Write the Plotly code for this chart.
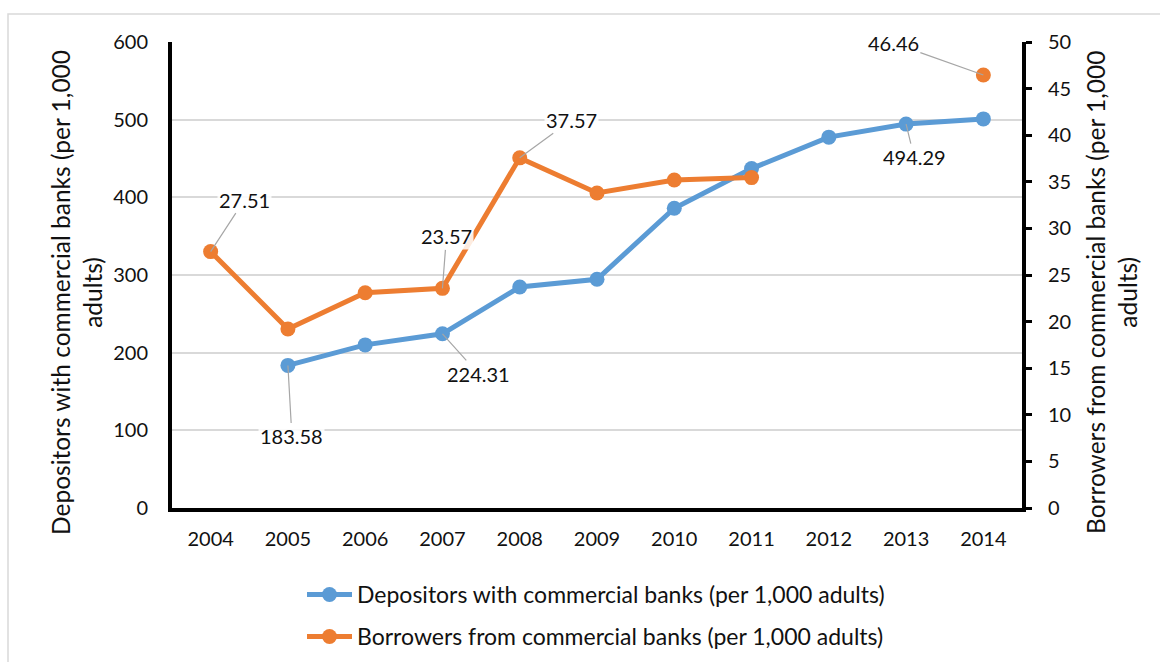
import plotly.graph_objects as go

years = ["2004", "2005", "2006", "2007", "2008", "2009", "2010", "2011", "2012", "2013", "2014"]
depositors = [None, 183.58, 210.0, 224.31, 284.5, 294.5, 386.0, 437.0, 477.5, 494.29, 501.0]
borrowers = [27.51, 19.2, 23.1, 23.57, 37.57, 33.8, 35.2, 35.45, None, None, 46.46]

dep_name = "Depositors with commercial banks (per 1,000 adults)"
bor_name = "Borrowers from commercial banks (per 1,000 adults)"
dep_title = "Depositors with commercial banks (per 1,000<br>adults)"
bor_title = "Borrowers from commercial banks (per 1,000<br>adults)"

BLUE = "#5B9BD5"
ORANGE = "#ED7D31"
FONT = "Lato"
TXT = "#111111"

# Plot-area geometry in pixels, used to place paper-referenced items
L, R, T, B = 172, 1022, 42, 508
W, H = R - L, B - T


def px_x(px):
    return (px - L) / W


def px_y(py):
    return (B - py) / H


fig = go.Figure()
fig.add_trace(go.Scatter(
    x=years, y=depositors, name=dep_name, mode="lines+markers",
    line=dict(color=BLUE, width=5), marker=dict(size=15, color=BLUE),
    connectgaps=False, legend="legend", yaxis="y",
))
fig.add_trace(go.Scatter(
    x=years, y=borrowers, name=bor_name, mode="lines+markers",
    line=dict(color=ORANGE, width=5), marker=dict(size=15, color=ORANGE),
    connectgaps=False, legend="legend2", yaxis="y2",
))

# Callout labels: (year, series values, axis, x-offset, y-offset)
callouts = [
    ("2004", borrowers, "y2", 34, -52),
    ("2007", borrowers, "y2", 4, -52),
    ("2008", borrowers, "y2", 52, -38),
    ("2014", borrowers, "y2", -90, -32),
    ("2005", depositors, "y", 4, 71),
    ("2007", depositors, "y", 36, 40),
    ("2013", depositors, "y", 8, 33),
]
annotations = []
for yr, series, ax_ref, dx, dy in callouts:
    i = years.index(yr)
    val = series[i]
    annotations.append(dict(
        x=i, y=val, xref="x", yref=ax_ref, text=f"{val:.2f}",
        showarrow=True, arrowhead=0, arrowwidth=1.2, arrowcolor="#a6a6a6",
        ax=dx, ay=dy, font=dict(family=FONT, size=20, color=TXT),
        bgcolor="rgba(255,255,255,0.85)", borderpad=1,
    ))

# Rotated axis titles
for text, cx in ((dep_title, 76), (bor_title, 1111)):
    annotations.append(dict(
        text=text, textangle=-90, xref="paper", yref="paper",
        x=px_x(cx), y=px_y(293), xanchor="center", yanchor="middle",
        showarrow=False, font=dict(family=FONT, size=24.5, color=TXT),
    ))

# Outer chart border
border = dict(
    type="rect", xref="paper", yref="paper",
    x0=px_x(8), x1=px_x(1170), y0=px_y(14), y1=px_y(680),
    line=dict(color="#d9d9d9", width=1.5), fillcolor="rgba(0,0,0,0)", layer="below",
)

legend_style = dict(
    orientation="v", xanchor="left", yanchor="top", itemwidth=45,
    font=dict(family=FONT, size=23, color=TXT), bgcolor="rgba(0,0,0,0)",
)

fig.update_layout(
    width=1160, height=662,
    margin=dict(l=L, r=1160 - R, t=T, b=662 - B, autoexpand=False),
    paper_bgcolor="white", plot_bgcolor="white",
    font=dict(family=FONT, size=20, color=TXT),
    annotations=annotations,
    shapes=[border],
    showlegend=True,
    legend=dict(x=px_x(302), y=px_y(573), **legend_style),
    legend2=dict(x=px_x(302), y=px_y(615), **legend_style),
    xaxis=dict(
        type="category", range=[-0.5, 10.5], showline=True, linecolor="black",
        linewidth=4, ticks="", showgrid=False, zeroline=False, ticklabelstandoff=10,
        tickfont=dict(family=FONT, size=20, color=TXT),
    ),
    yaxis=dict(
        range=[0, 600], dtick=100, showgrid=True, gridcolor="#d9d9d9", gridwidth=1.5,
        showline=True, linecolor="black", linewidth=4, ticks="", zeroline=False,
        ticklabelstandoff=16,
        tickfont=dict(family=FONT, size=20, color=TXT),
    ),
    yaxis2=dict(
        range=[0, 50], dtick=5, overlaying="y", side="right", showgrid=False,
        showline=True, linecolor="black", linewidth=4, ticks="outside",
        ticklen=6, tickwidth=3, tickcolor="black", zeroline=False,
        ticklabelstandoff=12,
        tickfont=dict(family=FONT, size=20, color=TXT),
    ),
)

fig.write_html("out.html")
